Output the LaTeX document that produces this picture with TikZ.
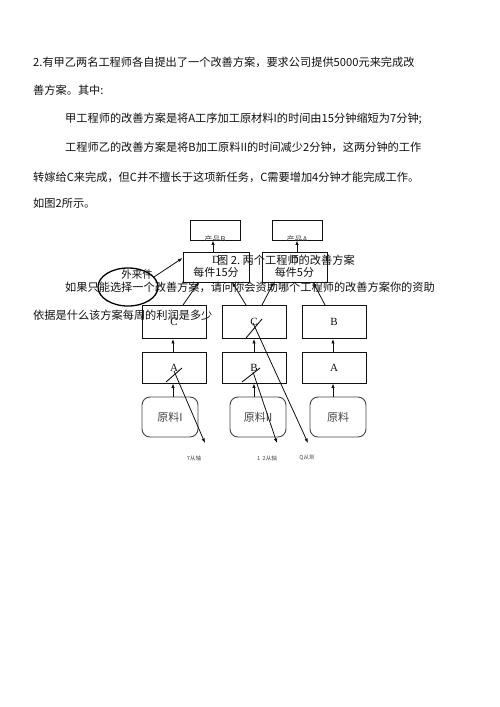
\documentclass[tikz,border=0pt]{standalone}
\usepackage{fontspec}
\setmainfont{Liberation Serif}
\newfontfamily\cjk{Noto Sans CJK SC}
\usetikzlibrary{arrows.meta,shapes.geometric}
\definecolor{ink}{HTML}{111111}
\definecolor{soft}{HTML}{444444}
\tikzset{
  para/.style={inner sep=0pt, anchor=base west, text=ink, font=\cjk\fontsize{11.2}{13}\selectfont},
  box/.style={draw=ink, line width=0.9pt, inner sep=0pt, minimum width=64pt, minimum height=33pt, font=\fontsize{11}{12}\selectfont, text=ink},
  rawbox/.style={draw=soft, line width=0.9pt, rounded corners=8pt, inner sep=0pt, minimum width=56pt, minimum height=40pt, font=\cjk\fontsize{11}{12}\selectfont, text=soft},
  prod/.style={draw=ink, line width=0.9pt, inner sep=0pt, minimum width=50pt, minimum height=20pt},
  arr/.style={draw=ink, line width=0.8pt, -{Latex[length=4.5pt,width=3.5pt]}},
  slash/.style={draw=ink, line width=0.9pt},
  tiny/.style={inner sep=0pt, text=soft, font=\cjk\fontsize{5.5}{6}\selectfont},
  extline/.style={draw=black, line width=1.3pt},
}
\begin{document}
\begin{tikzpicture}[x=1pt,y=-1pt]
\fill[white] (0,0) rectangle (500,707);
\useasboundingbox (0,0) rectangle (500,707);
% paragraph text
\node[para] (l1) at (33,66) {2.有甲乙两名工程师各自提出了一个改善方案，要求公司提供5000元来完成改};
\node[para] (l2) at (33,94) {善方案。其中:};
\node[para] (l3) at (65,122) {甲工程师的改善方案是将A工序加工原材料I的时间由15分钟缩短为7分钟;};
\node[para] (l4) at (65,151) {工程师乙的改善方案是将B加工原料II的时间减少2分钟，这两分钟的工作};
\node[para] (l5) at (33,181) {转嫁给C来完成，但C并不擅长于这项新任务，C需要增加4分钟才能完成工作。};
\node[para] (l6) at (33,207) {如图2所示。};
\node[para] (cap) at (217,264) {图 2.\ 两个工程师的改善方案};
\node[para] (q1) at (65,291) {如果只能选择一个改善方案，请问你会资助哪个工程师的改善方案你的资助};
\node[para] (q2) at (33,319) {依据是什么该方案每周的利润是多少};
% external part
\coordinate (outer) at (128,287);
\draw[extline] (outer) ellipse [x radius=30pt, y radius=19pt];
\coordinate (outerNE) at (154,277);
\node[inner sep=0pt, text=ink, font=\cjk\fontsize{10.5}{12}\selectfont] (extt) at (137,275) {外来件};
% product boxes
\node[prod] (pB) at (215,230) {};
\node[prod] (pA) at (297,230) {};
\begin{scope}
\clip (190,220) rectangle (240,240);
\node[inner sep=0pt, text=soft, font=\cjk\fontsize{8}{9}\selectfont] (pBt) at (215,239) {产品B};
\end{scope}
\begin{scope}
\clip (272,220) rectangle (322,240);
\node[inner sep=0pt, text=soft, font=\cjk\fontsize{8}{9}\selectfont] (pAt) at (297,239) {产品A};
\end{scope}
% D boxes
\node[box, minimum width=66pt, minimum height=30pt, align=center, font=\cjk\fontsize{11}{13}\selectfont] (D1) at (216,267) {\rmfamily D\\每件15分};
\node[box, minimum width=65pt, minimum height=30pt, align=center, font=\cjk\fontsize{11}{13}\selectfont] (D2) at (294.5,267) {\rmfamily D\\每件5分};
% middle boxes
\node[box] (C1) at (174,322) {C};
\node[box] (C2) at (254,322) {C};
\node[box] (B3) at (334,322) {B};
\node[box, minimum height=31pt] (A1) at (174,367.5) {A};
\node[box, minimum height=31pt] (B2) at (254,367.5) {B};
\node[box, minimum height=31pt] (A3) at (334,367.5) {A};
% raw material
\node[rawbox] (R1) at (170,417) {原料I};
\node[rawbox] (R2) at (258,417) {原料II};
\node[rawbox] (R3) at (338,417) {原料};
% vertical arrows
\draw[arr] (R1.north -| A1) ++(-1,0) coordinate (r1t) -- (r1t |- A1.south);
\draw[arr] (R2.north -| B2) coordinate (r2t) -- (r2t |- B2.south);
\draw[arr] (R3.north -| A3) ++(-1,0) coordinate (r3t) -- (r3t |- A3.south);
\draw[arr] (A1.north) ++(-1,0) coordinate (a1t) -- (a1t |- C1.south);
\draw[arr] (B2.north) coordinate (b2t) -- (b2t |- C2.south);
\draw[arr] (A3.north) ++(-1,0) coordinate (a3t) -- (a3t |- B3.south);
\draw[arr] (D1.north) ++(-3,0) coordinate (d1t) -- (d1t |- pB.south);
\draw[arr] (D2.north) ++(2.5,0) coordinate (d2t) -- (d2t |- pA.south);
% to D
\coordinate (c1a) at (183,305);
\coordinate (c2a) at (246,305);
\coordinate (c2b) at (262,305);
\coordinate (b3a) at (325,305);
\draw[arr] (c1a) -- (199,282);
\draw[arr] (c2a) -- (232,282);
\draw[arr] (c2b) -- (274,282);
\draw[arr] (b3a) -- (313,282);
\draw[arr] (outerNE) -- (D1.west |- 0,258);
% slashes
\draw[slash] (166,382) -- (182,368);
\draw[slash] (242,382) -- (260,368);
\draw[slash] (246,338) -- (262,319);
% long arrows
\coordinate (s1) at (174,371);
\coordinate (s2) at (253,372);
\coordinate (s3) at (253,323);
\coordinate (t1) at (205,443);
\coordinate (t2) at (277,443);
\coordinate (t3) at (308,443);
\draw[arr] (s1) -- (t1);
\draw[arr] (s2) -- (t2);
\draw[arr] (s3) -- (t3);
% bottom labels
\node[tiny] (n1) at (194,458) {7从轴};
\node[tiny] (n2) at (267,458) {1\ \ 2从轴};
\node[tiny] (n3) at (307,458) {Q从圳};
\end{tikzpicture}
\end{document}
